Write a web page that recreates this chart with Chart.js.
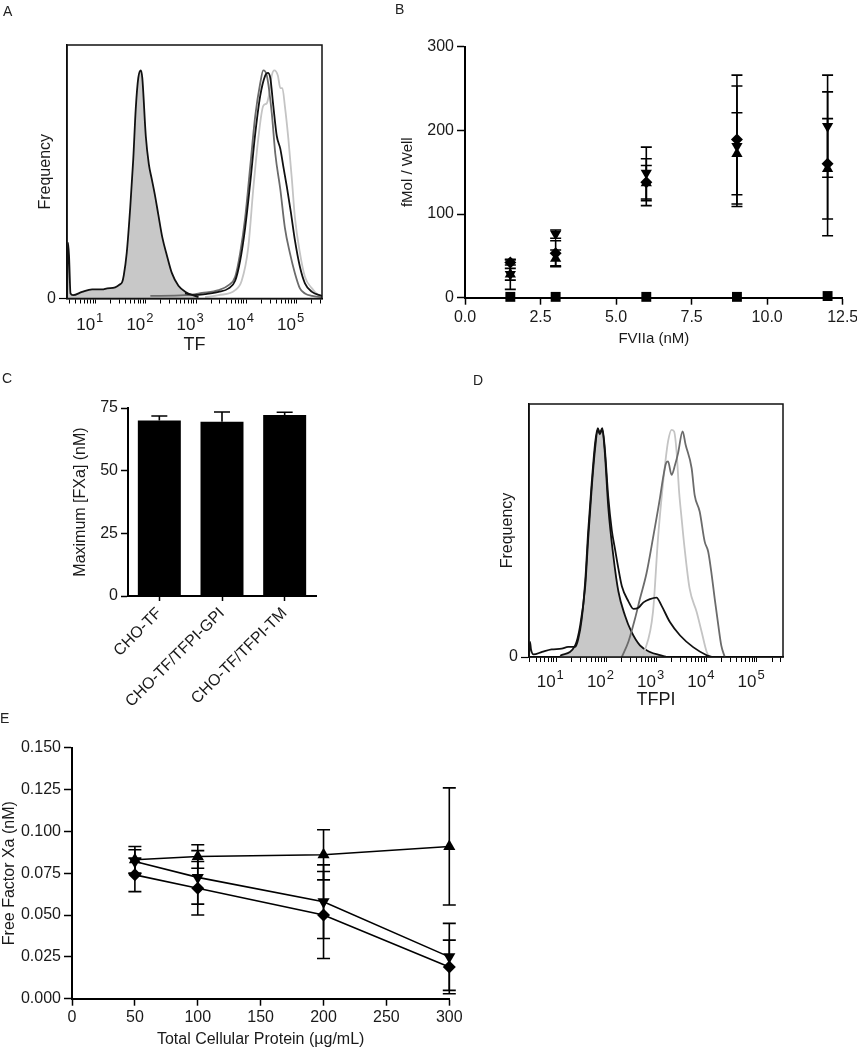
<!DOCTYPE html>
<html><head><meta charset="utf-8">
<script src="https://cdn.jsdelivr.net/npm/chart.js@4.4.1/dist/chart.umd.min.js"></script>
<style>
html,body{margin:0;padding:0;background:#fff;}
#wrap{position:relative;width:857px;height:1050px;overflow:hidden;background:#fff;}
canvas{position:absolute;left:0;top:0;}
.lbl{position:absolute;font-family:"Liberation Sans",Arial,sans-serif;font-size:14px;color:#222;line-height:1;}
</style></head><body>
<div id="wrap">
<canvas id="cA" width="857" height="1050"></canvas>
<canvas id="cB" width="857" height="1050"></canvas>
<canvas id="cC" width="857" height="1050"></canvas>
<canvas id="cD" width="857" height="1050"></canvas>
<canvas id="cE" width="857" height="1050"></canvas>
<div class="lbl" style="left:3px;top:4px">A</div>
<div class="lbl" style="left:395px;top:2px">B</div>
<div class="lbl" style="left:2px;top:371px">C</div>
<div class="lbl" style="left:473px;top:373px">D</div>
<div class="lbl" style="left:0px;top:711px">E</div>
</div>
<script>
// ---------------- DATA ----------------
// Flow histograms: x = log10(fluorescence), y = % of max frame height
const flowMajorVals = [1, 2, 3, 4, 5];
const flowMajorBase = '10';
const flowMajorExps = ['1', '2', '3', '4', '5'];
const flowYTicks = [0];
const flowYLabels = ['0'];

const aShadedLog  = [0.43,0.45,0.47,0.50,0.55,0.73,0.93,1.13,1.23,1.39,1.48,1.53,1.56,1.62,1.69,1.75,1.80,1.85,1.90,1.93,2.00,2.06,2.12,2.18,2.25,2.33,2.42,2.52,2.65,2.80,2.95,3.05];
const aShadedFreq = [0,22,17,2,1.3,2.6,3.6,3.6,4,4.4,5.5,6.5,9,18,36,55,75,87,90,87,64,53,47,41,33,24,17,10,5,2.5,1.2,0.5];
const aBlackLog   = [2.78,2.98,3.18,3.45,3.65,3.78,3.88,3.98,4.08,4.18,4.28,4.38,4.43,4.48,4.54,4.61,4.68,4.74,4.81,4.89,4.97,5.07,5.17,5.31,5.51];
const aBlackFreq  = [2,1.3,1.7,2.6,4,7,15,28,45.6,65,80,88,89,87,76,64,59,52,44,34,23,12.5,6,2.6,1];
const aGrayLog    = [2.09,2.78,3.12,3.45,3.65,3.78,3.88,3.98,4.08,4.18,4.28,4.34,4.41,4.51,4.58,4.68,4.77,4.87,4.97,5.07,5.17,5.31,5.51];
const aGrayFreq   = [1,1.3,2.2,3.3,5.3,8.6,18,32,52,72,85,90,88,73,57,43,28,18,10,4,2,1,0.5];
const aLightLog   = [3.18,3.45,3.78,3.91,4.04,4.14,4.24,4.34,4.41,4.46,4.51,4.56,4.63,4.68,4.72,4.77,4.84,4.91,4.97,5.07,5.17,5.31,5.44,5.51];
const aLightFreq  = [0.5,1.3,3.3,7,20,43,63,76,77,81,88,90,88,83,83,76,63,47,32,18,8.6,4,1.3,1];

const dBlackLog   = [0.46,0.48,0.50,0.55,0.72,0.91,1.11,1.24,1.38,1.44,1.51,1.58,1.64,1.71,1.78,1.83,1.87,1.92,1.97,2.04,2.11,2.17,2.24,2.31,2.44,2.54,2.64,2.74,2.87,3.00,3.10,3.27,3.47,3.73,4.00,4.10];
const dBlackFreq  = [0,6,3,1,2,3,3.3,4,4,7,15,30,50,69,85,90.5,88.5,90.5,82.5,63,50,43,35,28,22,19,19.5,21.6,22.9,23.5,20.3,13.7,8.5,3.9,0.7,0];
const dShadedLog  = [1.08,1.38,1.48,1.58,1.64,1.71,1.78,1.83,1.87,1.92,1.97,2.04,2.14,2.24,2.37,2.50,2.67,2.87,3.07,3.20];
const dShadedFreq = [0.5,4.6,12.5,28,47,67,83,90,88,90,81,59,40,26,16.5,10,4.6,2,0.7,0];
const dGrayLog    = [2.31,2.44,2.57,2.67,2.80,2.93,3.07,3.13,3.19,3.23,3.30,3.37,3.43,3.52,3.58,3.70,3.76,3.86,3.96,4.03,4.10,4.16,4.23,4.29,4.36];
const dGrayFreq   = [0,6,15,23,33,47,63,70.7,76.6,77.3,72,76,80.6,89.2,83.9,74.6,64,57.5,45.6,41.6,32.4,23,12.7,4.6,0];
const dLightLog   = [2.73,2.93,3.03,3.10,3.17,3.23,3.30,3.35,3.40,3.45,3.50,3.56,3.66,3.80,3.90,4.00,4.06];
const dLightFreq  = [0,17.8,46.9,62.7,76,85.2,89.8,89.2,81.2,65.4,54.8,42.9,27,17.8,9.9,2,0];

// Panel B
const bX = [1.5, 3, 6, 9, 12];
const bDiamond    = [42, 53, 138, 189, 160];
const bDiamondErr = [3, 15, 28, 77, 86];
const bUp         = [28, 47, 137, 172, 154];
const bUpErr      = [7, 10, 21, 49, 60];
const bDown       = [28, 76, 149, 181, 205];
const bDownErr    = [18, 5, 31, 72, 61];
const bSquare     = [1, 1, 1, 1, 2];
const bXTicks = [0, 2.5, 5, 7.5, 10, 12.5];
const bXLabels = ['0.0', '2.5', '5.0', '7.5', '10.0', '12.5'];
const bYTicks = [0, 100, 200, 300];
const bYLabels = ['0', '100', '200', '300'];

// Panel C
const cLabels = ['CHO-TF', 'CHO-TF/TFPI-GPI', 'CHO-TF/TFPI-TM'];
const cValues = [70, 69.5, 72.2];
const cErr    = [1.8, 3.9, 1.1];
const cYTicks = [0, 25, 50, 75];
const cYLabels = ['0', '25', '50', '75'];

// Panel E
const eX = [50, 100, 200, 300];
const eUp         = [0.083, 0.085, 0.086, 0.091];
const eUpErr      = [0.008, 0.007, 0.015, 0.035];
const eDown       = [0.082, 0.0725, 0.058, 0.025];
const eDownErr    = [0.007, 0.016, 0.022, 0.020];
const eDiamond    = [0.074, 0.066, 0.050, 0.019];
const eDiamondErr = [0.010, 0.016, 0.026, 0.016];
const eXTicks = [0, 50, 100, 150, 200, 250, 300];
const eXLabels = ['0', '50', '100', '150', '200', '250', '300'];
const eYTicks = [0, 0.025, 0.05, 0.075, 0.1, 0.125, 0.15];
const eYLabels = ['0.000', '0.025', '0.050', '0.075', '0.100', '0.125', '0.150'];

// ---------------- SETUP ----------------
const W = 857, H = 1050;
const FONT = '"Liberation Sans Narrow","Liberation Sans",Arial,sans-serif';
const TXT = '#1a1a1a';
Chart.defaults.font.family = FONT;
Chart.defaults.color = TXT;
Chart.defaults.animation = false;
Chart.defaults.events = [];
Chart.defaults.plugins.legend.display = false;
Chart.defaults.plugins.tooltip.enabled = false;

const framePlugin = {
  id: 'frame',
  afterDraw(chart, args, opts) {
    if (!opts || !opts.on) return;
    const a = chart.chartArea, c = chart.ctx;
    c.save(); c.strokeStyle = '#111'; c.lineWidth = 1.5;
    c.strokeRect(a.left, a.top, a.right - a.left, a.bottom - a.top);
    c.restore();
  }
};
// decade labels "10" + superscript exponent, placed by the x scale
const supPlugin = {
  id: 'suplabels',
  afterDraw(chart, args, opts) {
    if (!opts || !opts.on) return;
    const c = chart.ctx, xs = chart.scales.x, b = chart.chartArea.bottom;
    c.save();
    c.fillStyle = TXT;
    c.textBaseline = 'alphabetic';
    flowMajorVals.forEach((v, i) => {
      const x = xs.getPixelForValue(v);
      c.font = '17px ' + FONT;
      c.textAlign = 'right';
      c.fillText(flowMajorBase, x - 0.5, b + opts.base);
      c.font = '13px ' + FONT;
      c.textAlign = 'left';
      c.fillText(flowMajorExps[i], x + 0.5, b + opts.base - 8);
    });
    c.restore();
  }
};
const errPlugin = {
  id: 'errbars',
  beforeDatasetsDraw(chart, args, opts) { if (opts && opts.on) drawErr(chart, opts); }
};
function drawErr(chart, opts) {
  const ctx = chart.ctx, ys = chart.scales.y;
  chart.data.datasets.forEach((ds, i) => {
    if (!ds.errors) return;
    const meta = chart.getDatasetMeta(i);
    meta.data.forEach((el, j) => {
      const err = ds.errors[j];
      if (err == null) return;
      const raw = ds.data[j];
      const val = (typeof raw === 'object') ? raw.y : raw;
      const x = el.x;
      const yT = ys.getPixelForValue(val + err);
      const yB = opts.upOnly ? ys.getPixelForValue(val) : ys.getPixelForValue(val - err);
      ctx.save();
      ctx.strokeStyle = '#000'; ctx.lineWidth = opts.width || 1.6;
      ctx.beginPath();
      ctx.moveTo(x, yT); ctx.lineTo(x, yB);
      ctx.moveTo(x - opts.cap, yT); ctx.lineTo(x + opts.cap, yT);
      if (!opts.upOnly) { ctx.moveTo(x - opts.cap, yB); ctx.lineTo(x + opts.cap, yB); }
      ctx.stroke();
      ctx.restore();
    });
  });
}
Chart.register(framePlugin, supPlugin, errPlugin);

function fixedArea(area, yW, xH) {
  return {
    padding: {left: area.l - yW, top: area.t, right: W - area.r, bottom: H - area.b - xH},
    fitX: s => { s.height = xH; s.paddingLeft = 0; s.paddingRight = 0; s.paddingTop = 0; s.paddingBottom = 0; },
    fitY: s => { s.width = yW; s.paddingTop = 0; s.paddingBottom = 0; s.paddingLeft = 0; s.paddingRight = 0; }
  };
}
function labelFrom(vals, labels) {
  return v => { const k = vals.findIndex(m => Math.abs(m - v) < 1e-9); return k >= 0 ? labels[k] : ''; };
}
function linAxis(o) {
  return {
    type: 'linear', min: o.min, max: o.max,
    afterFit: o.fit,
    afterBuildTicks: s => { s.ticks = o.ticks.map(v => ({value: v})); },
    ticks: {autoSkip: false, maxRotation: 0, padding: o.pad, font: {size: o.fs}, color: TXT, callback: o.cb},
    grid: {drawOnChartArea: false, drawTicks: true, tickLength: o.tl, tickColor: '#000', tickWidth: o.tw || 1.5},
    border: {display: true, color: '#000', width: o.bw || 2},
    title: o.title ? {display: true, text: o.title, font: {size: o.tfs}, color: TXT, padding: 0} : {display: false}
  };
}

// ---------------- FLOW PANELS ----------------
function flowTicks(min, max) {
  const t = [];
  for (let d = 0; d <= 5; d++) for (let k = 1; k <= 9; k++) {
    const v = d + Math.log10(k);
    if (v >= min && v <= max) t.push(v);
  }
  return t;
}
function flowChart(id, area, yW, xH, xMin, xMax, xTitle, base, series) {
  const fa = fixedArea(area, yW, xH);
  new Chart(document.getElementById(id), {
    type: 'line',
    data: {datasets: series.map(s => ({
      data: s.logs.map((v, i) => ({x: v, y: s.freq[i]})),
      borderColor: s.color, borderWidth: s.width || 1.8,
      pointRadius: 0, cubicInterpolationMode: 'monotone',
      fill: s.fill ? 'origin' : false,
      backgroundColor: s.fill || 'rgba(0,0,0,0)',
      order: s.order
    }))},
    options: {
      responsive: false,
      layout: {padding: fa.padding},
      plugins: {frame: {on: true}, suplabels: {on: true, base: base}},
      scales: {
        x: linAxis({min: xMin, max: xMax, fit: fa.fitX, ticks: flowTicks(xMin, xMax),
          cb: () => '', fs: 16, pad: 6, tl: 5, tw: 1, bw: 1.5,
          title: xTitle, tfs: 18}),
        y: linAxis({min: 0, max: 100, fit: fa.fitY, ticks: flowYTicks,
          cb: labelFrom(flowYTicks, flowYLabels), fs: 16, pad: 3, tl: 8, tw: 1.2, bw: 1.5,
          title: 'Frequency', tfs: 16})
      }
    }
  });
}

flowChart('cA', {l: 67, r: 322, t: 45, b: 298.5}, 30.6, 57.3, 0.43, 5.51, 'TF', 31, [
  {logs: aShadedLog, freq: aShadedFreq, color: '#111', fill: '#c8c8c8', order: 5},
  {logs: aLightLog, freq: aLightFreq, color: '#c4c4c4', order: 4},
  {logs: aGrayLog, freq: aGrayFreq, color: '#6b6b6b', order: 3},
  {logs: aBlackLog, freq: aBlackFreq, color: '#111', order: 1}
]);
flowChart('cD', {l: 529, r: 783, t: 404, b: 657}, 30.6, 53.8, 0.46, 5.52, 'TFPI', 30, [
  {logs: dShadedLog, freq: dShadedFreq, color: '#111', fill: '#c8c8c8', order: 5},
  {logs: dLightLog, freq: dLightFreq, color: '#c4c4c4', order: 4},
  {logs: dGrayLog, freq: dGrayFreq, color: '#6b6b6b', order: 3},
  {logs: dBlackLog, freq: dBlackFreq, color: '#111', order: 1}
]);

// ---------------- PANEL B ----------------
(function () {
  const fa = fixedArea({l: 465, r: 842.7, t: 46.7, b: 297.7}, 66, 50.3);
  const mk = (vals, errs, style, r, rot) => ({
    data: bX.map((x, i) => ({x: x, y: vals[i]})), errors: errs,
    pointStyle: style, pointRadius: r, pointRotation: rot || 0,
    backgroundColor: '#000', borderColor: '#000', borderWidth: 0, showLine: false, clip: false
  });
  new Chart(document.getElementById('cB'), {
    type: 'scatter',
    data: {datasets: [
      mk(bSquare, null, 'rect', 7),
      mk(bDiamond, bDiamondErr, 'rectRot', 6),
      mk(bUp, bUpErr, 'triangle', 6.5),
      mk(bDown, bDownErr, 'triangle', 6.5, 180)
    ]},
    options: {
      responsive: false,
      layout: {padding: fa.padding},
      plugins: {errbars: {on: true, cap: 5.5, width: 1.6}},
      scales: {
        x: linAxis({min: 0, max: 12.5, fit: fa.fitX, ticks: bXTicks, cb: labelFrom(bXTicks, bXLabels),
          fs: 16, pad: 3, tl: 7, title: 'FVIIa (nM)', tfs: 15}),
        y: linAxis({min: 0, max: 300, fit: fa.fitY, ticks: bYTicks, cb: labelFrom(bYTicks, bYLabels),
          fs: 16, pad: 3, tl: 8, title: 'fMol / Well', tfs: 15})
      }
    }
  });
})();

// ---------------- PANEL C ----------------
(function () {
  const fa = fixedArea({l: 128, r: 316, t: 408, b: 596}, 56.6, 110);
  new Chart(document.getElementById('cC'), {
    type: 'bar',
    data: {labels: cLabels, datasets: [{
      data: cValues, errors: cErr, backgroundColor: '#000', borderWidth: 0,
      barPercentage: 0.686, categoryPercentage: 1
    }]},
    options: {
      responsive: false,
      layout: {padding: fa.padding},
      plugins: {errbars: {on: true, cap: 8, width: 1.6, upOnly: true}},
      scales: {
        x: {
          type: 'category', afterFit: fa.fitX,
          ticks: {autoSkip: false, minRotation: 45, maxRotation: 45, padding: 3, font: {size: 16}, color: TXT},
          grid: {offset: false, drawOnChartArea: false, drawTicks: true, tickLength: 5, tickColor: '#000', tickWidth: 1.5},
          border: {display: true, color: '#000', width: 2}
        },
        y: linAxis({min: 0, max: 75, fit: fa.fitY, ticks: cYTicks, cb: labelFrom(cYTicks, cYLabels),
          fs: 16, pad: 3, tl: 7, title: 'Maximum [FXa] (nM)', tfs: 16})
      }
    }
  });
})();

// ---------------- PANEL E ----------------
(function () {
  const fa = fixedArea({l: 72, r: 449.3, t: 747.7, b: 998.7}, 72, 50.9);
  const mk = (vals, errs, style, r, rot) => ({
    data: eX.map((x, i) => ({x: x, y: vals[i]})), errors: errs,
    pointStyle: style, pointRadius: r, pointRotation: rot || 0,
    backgroundColor: '#000', borderColor: '#000', borderWidth: 1.6, pointBorderWidth: 0,
    showLine: true, tension: 0, clip: false
  });
  new Chart(document.getElementById('cE'), {
    type: 'line',
    data: {datasets: [
      mk(eDiamond, eDiamondErr, 'rectRot', 6.5),
      mk(eDown, eDownErr, 'triangle', 7, 180),
      mk(eUp, eUpErr, 'triangle', 7)
    ]},
    options: {
      responsive: false,
      layout: {padding: fa.padding},
      plugins: {errbars: {on: true, cap: 6.5, width: 1.6}},
      scales: {
        x: linAxis({min: 0, max: 300, fit: fa.fitX, ticks: eXTicks, cb: labelFrom(eXTicks, eXLabels),
          fs: 16, pad: 2, tl: 7, title: 'Total Cellular Protein (µg/mL)', tfs: 16}),
        y: linAxis({min: 0, max: 0.15, fit: fa.fitY, ticks: eYTicks, cb: labelFrom(eYTicks, eYLabels),
          fs: 16, pad: 3, tl: 8, title: 'Free Factor Xa (nM)', tfs: 16})
      }
    }
  });
})();
</script>
</body></html>
